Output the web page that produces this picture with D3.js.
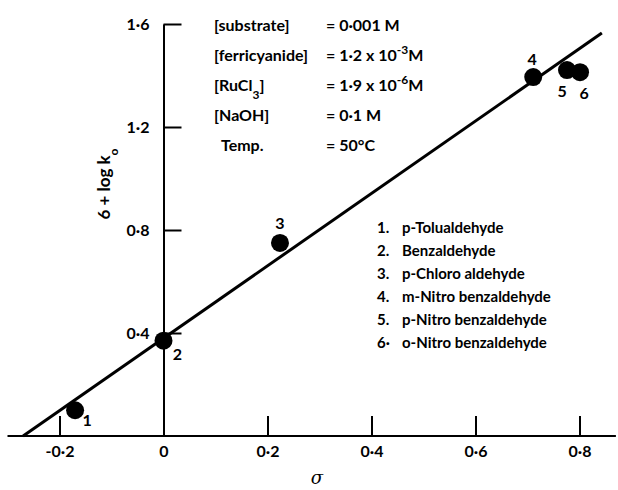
<!DOCTYPE html>
<html>
<head>
<meta charset="utf-8">
<script src="https://cdn.jsdelivr.net/npm/d3@7"></script>
<style>
  body { margin: 0; background: #fff; }
  svg { display: block; }
  text { font-family: Lato, "DejaVu Sans", sans-serif; font-weight: bold; fill: #000; }
</style>
</head>
<body>
<script>
// Hammett plot: 6 + log k0 against sigma

// substituent points
var pointIds = [1, 2, 3, 4, 5, 6];
var sigmaValues = [-0.17, 0.0, 0.224, 0.711, 0.776, 0.801];
var logKValues = [0.10, 0.37, 0.75, 1.394, 1.421, 1.413];

// best-fit line (ends as drawn)
var lineSigma = [-0.27, 0.843];
var lineLogK = [0.0, 1.565];

// axis ticks
var xTicks = [-0.2, 0, 0.2, 0.4, 0.6, 0.8];
var yTicks = [0.4, 0.8, 1.2, 1.6];

// legend names
var compoundNames = ['p-Tolualdehyde', 'Benzaldehyde', 'p-Chloro aldehyde',
	'm-Nitro benzaldehyde', 'p-Nitro benzaldehyde', 'o-Nitro benzaldehyde'];
var legendMarks = ['1.', '2.', '3.', '4.', '5.', '6·'];

// reaction conditions
var conditionNames = ['substrate', 'ferricyanide', 'RuCl3', 'NaOH', 'Temp.'];
var conditionValues = ['= 0·001 M', '= 1·2 x 10|-3|M', '= 1·9 x 10|-6|M', '= 0·1 M', '= 50°C'];

function fmt(v) {
	if (v === 0) return '0';
	return (v < 0 ? '-' : '') + Math.abs(v).toFixed(1).replace('.', '·');
}

function ready() {
	var width = 618, height = 490;
	var svg = d3.select('body').append('svg')
		.attr('width', width)
		.attr('height', height);

	var x = d3.scaleLinear().domain([-0.2, 0.8]).range([59.5, 579.5]);
	var y = d3.scaleLinear().domain([0, 1.6]).range([436, 24]);

	// x axis: long base line and upward ticks
	svg.append('line')
		.attr('x1', x(-0.3)).attr('x2', x(0.87))
		.attr('y1', y(0)).attr('y2', y(0))
		.attr('stroke', '#000').attr('stroke-width', 2);

	var xAxis = d3.axisBottom(x)
		.tickValues(xTicks)
		.tickSizeInner(-20)
		.tickSizeOuter(0)
		.tickPadding(10)
		.tickFormat(fmt);

	var gx = svg.append('g')
		.attr('transform', 'translate(0,' + y(0) + ')')
		.call(xAxis);
	gx.select('.domain').remove();
	gx.selectAll('.tick line').attr('stroke-width', 2).filter(function(d) { return d === 0; }).remove();
	gx.selectAll('.tick text').style('font-size', '16px').attr('font-family', null);

	// y axis at sigma = 0
	var yAxis = d3.axisLeft(y)
		.tickValues(yTicks)
		.tickSizeInner(-18)
		.tickSizeOuter(0)
		.tickPadding(14)
		.tickFormat(fmt);

	var gy = svg.append('g')
		.attr('transform', 'translate(' + x(0) + ',0)')
		.call(yAxis);
	gy.select('.domain').attr('stroke-width', 2);
	gy.selectAll('.tick line').attr('stroke-width', 2);
	gy.selectAll('.tick text').style('font-size', '16px').attr('font-family', null);

	// fit line
	var fit = d3.range(lineSigma.length).map(function(i) { return [lineSigma[i], lineLogK[i]]; });
	svg.append('path')
		.datum(fit)
		.attr('d', d3.line().x(function(d) { return x(d[0]); }).y(function(d) { return y(d[1]); }))
		.attr('fill', 'none')
		.attr('stroke', '#000')
		.attr('stroke-width', 3);

	// points
	var pts = pointIds.map(function(id, i) { return { id: id, s: sigmaValues[i], k: logKValues[i] }; });
	svg.selectAll('circle.pt')
		.data(pts)
		.enter()
		.append('circle')
		.attr('class', 'pt')
		.attr('cx', function(d) { return x(d.s); })
		.attr('cy', function(d) { return y(d.k); })
		.attr('r', 9)
		.attr('fill', '#000');

	// number labels next to points (offsets in px)
	var labelDx = [12, 14, 0, -1, -5, 4];
	var labelDy = [16, 19, -14, -12, 27, 27];
	svg.selectAll('text.pid')
		.data(pts)
		.enter()
		.append('text')
		.attr('class', 'pid')
		.attr('x', function(d, i) { return x(d.s) + labelDx[i]; })
		.attr('y', function(d, i) { return y(d.k) + labelDy[i]; })
		.attr('text-anchor', 'middle')
		.style('font-size', '16px')
		.text(function(d) { return d.id; });

	// axis titles
	svg.append('text')
		.attr('x', 317).attr('y', 484)
		.attr('text-anchor', 'middle')
		.style('font-family', '"DejaVu Serif", serif')
		.style('font-style', 'italic')
		.style('font-weight', 'normal')
		.style('font-size', '18px')
		.text('σ');

	var yl = svg.append('text')
		.attr('transform', 'translate(110,184) rotate(-90)')
		.attr('text-anchor', 'middle')
		.style('font-size', '17px');
	yl.append('tspan').text('6 + log k');
	yl.append('tspan').attr('baseline-shift', 'sub').style('font-size', '12px').text('o');

	// conditions block
	var cond = svg.append('g');
	conditionNames.forEach(function(name, i) {
		var ty = 31 + i * 30;
		var t = cond.append('text').attr('x', i === 4 ? 221 : 214).attr('y', ty).style('font-size', '16px');
		if (name === 'RuCl3') {
			t.append('tspan').text('[RuCl');
			t.append('tspan').attr('baseline-shift', 'sub').style('font-size', '12px').text('3');
			t.append('tspan').text(']');
		} else if (name === 'Temp.') {
			t.text(name);
		} else {
			t.text('[' + name + ']');
		}
		var parts = conditionValues[i].split('|');
		var v = cond.append('text').attr('x', 326).attr('y', ty).style('font-size', '16px');
		v.append('tspan').text(parts[0]);
		if (parts.length > 1) {
			v.append('tspan').attr('baseline-shift', 'super').style('font-size', '12px').text(parts[1]);
			v.append('tspan').attr('baseline-shift', 'baseline').text(parts[2]);
		}
	});

	// legend of compounds
	var leg = svg.append('g');
	compoundNames.forEach(function(name, i) {
		var ty = 233 + i * 23;
		leg.append('text').attr('x', 377).attr('y', ty).style('font-size', '15px').text(legendMarks[i]);
		leg.append('text').attr('x', 402).attr('y', ty).style('font-size', '15px').text(name);
	});
}

window.onload = function() {
	ready();
};
</script>
</body>
</html>
